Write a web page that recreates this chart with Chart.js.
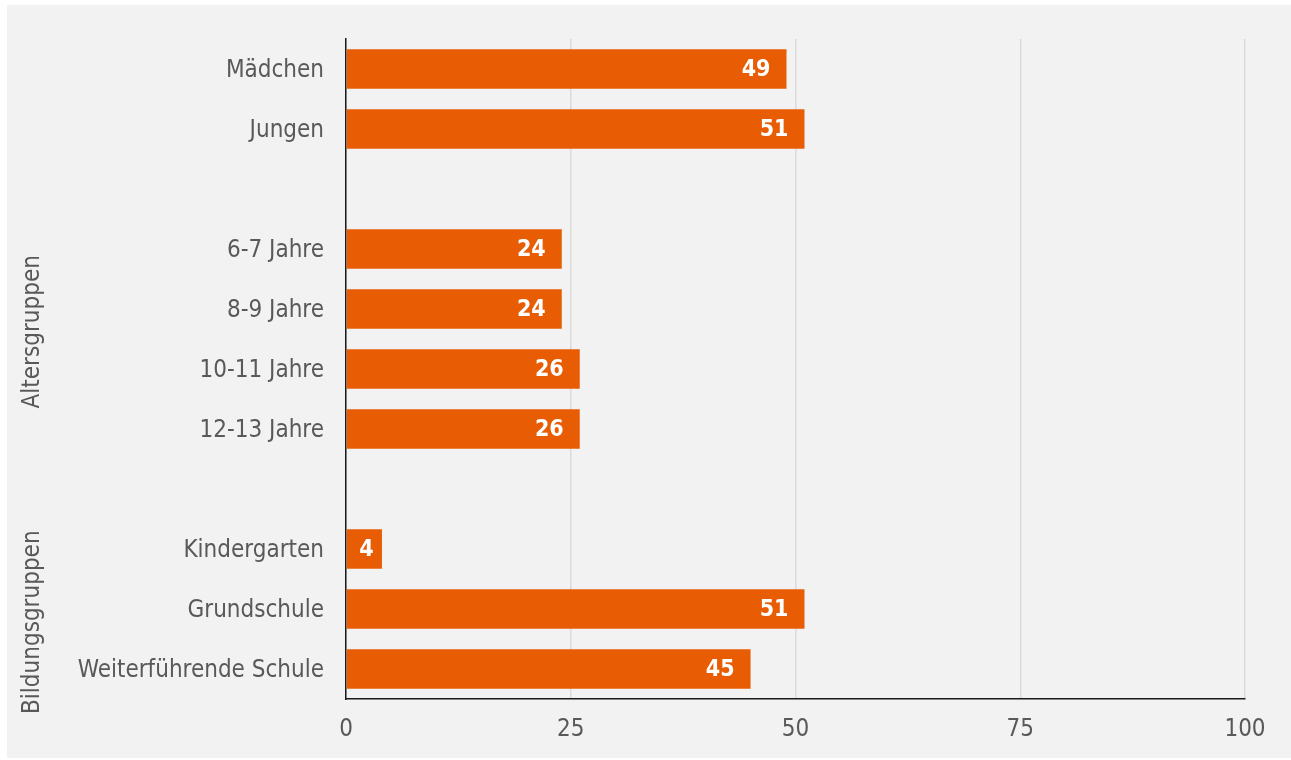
<!DOCTYPE html>
<html>
<head>
<meta charset="utf-8">
<script src="https://cdn.jsdelivr.net/npm/chart.js@4"></script>
<style>
  body { margin: 0; background: #ffffff; }
  #wrap { position: relative; width: 1291px; height: 760px; }
</style>
</head>
<body>
<div id="wrap"><canvas id="chart"></canvas></div>
<script>
// Categories (empty strings are the gaps between groups)
const categories = [
    'Mädchen', 'Jungen', '',
    '6-7 Jahre', '8-9 Jahre', '10-11 Jahre', '12-13 Jahre', '',
    'Kindergarten', 'Grundschule', 'Weiterführende Schule'
];
const values = [49, 51, null, 24, 24, 26, 26, null, 4, 51, 45];
const xTicks = [0, 25, 50, 75, 100];

// Group captions on the left, placed at a (fractional) category position
const groupNames = ['Altersgruppen', 'Bildungsgruppen'];
const groupCenters = [4.38, 9.22];

const FONT = "'DejaVu Sans Condensed', 'DejaVu Sans', sans-serif";
const TEXT = '#595959';
const ORANGE = '#e85c03';

// gray panel behind the chart
const panelPlugin = {
    id: 'panel',
    beforeDraw(chart) {
        const ctx = chart.ctx;
        ctx.save();
        ctx.fillStyle = '#f2f2f2';
        ctx.fillRect(7, 5, chart.width - 7, chart.height - 7);
        ctx.restore();
    }
};

// value labels inside the bar ends (centred when the bar is short)
const valueLabels = {
    id: 'valueLabels',
    afterDatasetsDraw(chart) {
        const ctx = chart.ctx;
        const meta = chart.getDatasetMeta(0);
        ctx.save();
        ctx.fillStyle = '#ffffff';
        ctx.font = 'bold 23px ' + FONT;
        ctx.textBaseline = 'middle';
        meta.data.forEach((bar, i) => {
            if (values[i] == null) return;
            const txt = String(values[i]);
            const w = ctx.measureText(txt).width;
            if (bar.x - bar.base < w + 30) {
                ctx.textAlign = 'center';
                ctx.fillText(txt, (bar.x + bar.base) / 2 + 2, bar.y + 1);
            } else {
                ctx.textAlign = 'right';
                ctx.fillText(txt, bar.x - 16, bar.y + 1);
            }
        });
        ctx.restore();
    }
};

// rotated group captions
const groupLabels = {
    id: 'groupLabels',
    afterDraw(chart) {
        const ctx = chart.ctx;
        const y = chart.scales.y;
        ctx.save();
        ctx.fillStyle = TEXT;
        ctx.font = '24px ' + FONT;
        ctx.textAlign = 'center';
        ctx.textBaseline = 'middle';
        groupNames.forEach((name, i) => {
            ctx.save();
            ctx.translate(33, y.getPixelForValue(groupCenters[i]));
            ctx.rotate(-Math.PI / 2);
            ctx.fillText(name, 0, 0);
            ctx.restore();
        });
        ctx.restore();
    }
};

new Chart(document.getElementById('chart'), {
    type: 'bar',
    data: {
        labels: categories,
        datasets: [{
            data: values,
            backgroundColor: ORANGE,
            borderWidth: 0,
            barPercentage: 0.66,
            categoryPercentage: 1
        }]
    },
    options: {
        indexAxis: 'y',
        responsive: true,
        maintainAspectRatio: false,
        animation: false,
        layout: { padding: { top: 39, right: 46, left: 0, bottom: 0 } },
        plugins: {
            legend: { display: false },
            tooltip: { enabled: false }
        },
        scales: {
            x: {
                min: 0,
                max: 100,
                afterBuildTicks(scale) {
                    scale.ticks = xTicks.map(v => ({ value: v }));
                },
                afterFit(scale) { scale.height = 61; },
                grid: { color: '#dadada', lineWidth: 1.5, drawTicks: false },
                border: { display: true, color: '#1a1a1a', width: 1.5 },
                ticks: {
                    padding: 16,
                    color: TEXT,
                    font: { family: FONT, size: 24 }
                }
            },
            y: {
                afterFit(scale) { scale.width = 346; },
                grid: { display: false, drawTicks: false },
                border: { display: true, color: '#1a1a1a', width: 1.5 },
                ticks: {
                    padding: 22,
                    labelOffset: 2,
                    color: TEXT,
                    autoSkip: false,
                    font: { family: FONT, size: 24, lineHeight: 1.0 }
                }
            }
        }
    },
    plugins: [panelPlugin, valueLabels, groupLabels]
});
</script>
</body>
</html>
